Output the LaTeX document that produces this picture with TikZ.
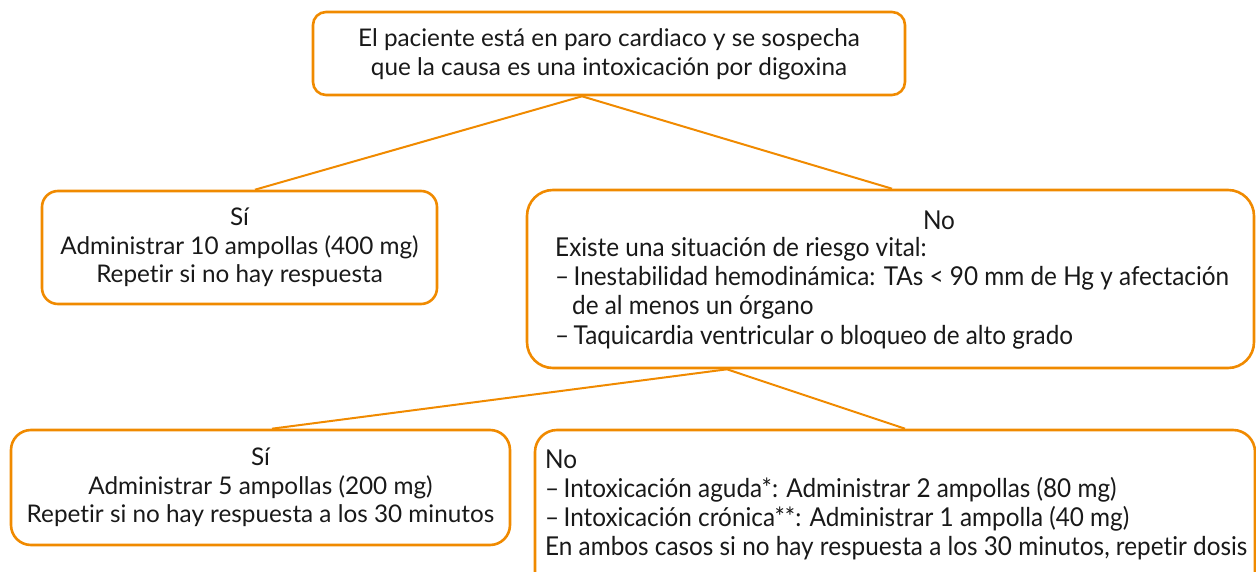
\documentclass[tikz,border=0pt]{standalone}
\usepackage{fontspec}
\setmainfont[Ligatures=NoCommon]{Lato}
\newfontfamily\condfont[FakeStretch=0.935,Ligatures=NoCommon]{Lato}
\usetikzlibrary{calc}
\definecolor{orng}{RGB}{240,138,0}
\definecolor{txt}{RGB}{25,25,25}
\tikzset{
  box/.style={draw=orng, line width=2.6pt, rectangle, inner sep=0pt},
  link/.style={draw=orng, line width=2pt},
  lbl/.style={text=txt, inner sep=0pt, font=\fontsize{24.3}{28.7}\selectfont},
  clbl/.style={text=txt, inner sep=0pt, font=\condfont\fontsize{26}{29.2}\selectfont},
}
\begin{document}
\begin{tikzpicture}[x=1pt,y=-1pt]
\useasboundingbox (0,0) rectangle (1256,572);
% boxes
\node[box, rounded corners=13pt, minimum width=592pt, minimum height=83pt] (top) at (609,53.5) {};
\node[box, rounded corners=16pt, minimum width=395pt, minimum height=113pt] (si1) at (239.5,247.5) {};
\node[box, rounded corners=26pt, minimum width=727pt, minimum height=178pt] (no1) at (890.5,279) {};
\node[box, rounded corners=20pt, minimum width=499pt, minimum height=115pt] (si2) at (260.5,487.5) {};
\node[box, rounded corners=22pt, minimum width=720pt, minimum height=170pt] (no2) at (895,515) {};
% texts
\node[lbl, align=center] (ttop) at ($(top.center)+(0,1)$) {El paciente está en paro cardiaco y se sospecha\\que la causa es una intoxicación por digoxina};
\node[lbl, align=center] (tsi1) at (si1.center) {Sí\\Administrar 10 ampollas (400 mg)\\Repetir si no hay respuesta};
\node[clbl] (tno1h) at (939,220) {No};
\node[clbl, align=left, anchor=west] (tno1) at (555,293) {Existe una situación de riesgo vital:\\–\,Inestabilidad hemodinámica: TAs < 90 mm de Hg y afectación\\\hspace{17pt}de al menos un órgano\\–\,Taquicardia ventricular o bloqueo de alto grado};
\node[lbl, align=center] (tsi2) at (si2.center) {Sí\\Administrar 5 ampollas (200 mg)\\Repetir si no hay respuesta a los 30 minutos};
\node[clbl, align=left, anchor=west] (tno2) at (545,505) {No\\–\,Intoxicación aguda*: Administrar 2 ampollas (80 mg)\\–\,Intoxicación crónica**: Administrar 1 ampolla (40 mg)\\En ambos casos si no hay respuesta a los 30 minutos, repetir dosis};
% connectors
\coordinate (a) at ($(top.south)+(-27,0)$);
\coordinate (b) at ($(no1.south)+(-163.5,0)$);
\draw[link] (a) -- ($(si1.north)+(15.5,0)$);
\draw[link] (a) -- ($(no1.north)+(1.5,0)$);
\draw[link] (b) -- ($(si2.north)+(11.5,0)$);
\draw[link] (b) -- ($(no2.north)+(10,0)$);
\end{tikzpicture}
\end{document}
